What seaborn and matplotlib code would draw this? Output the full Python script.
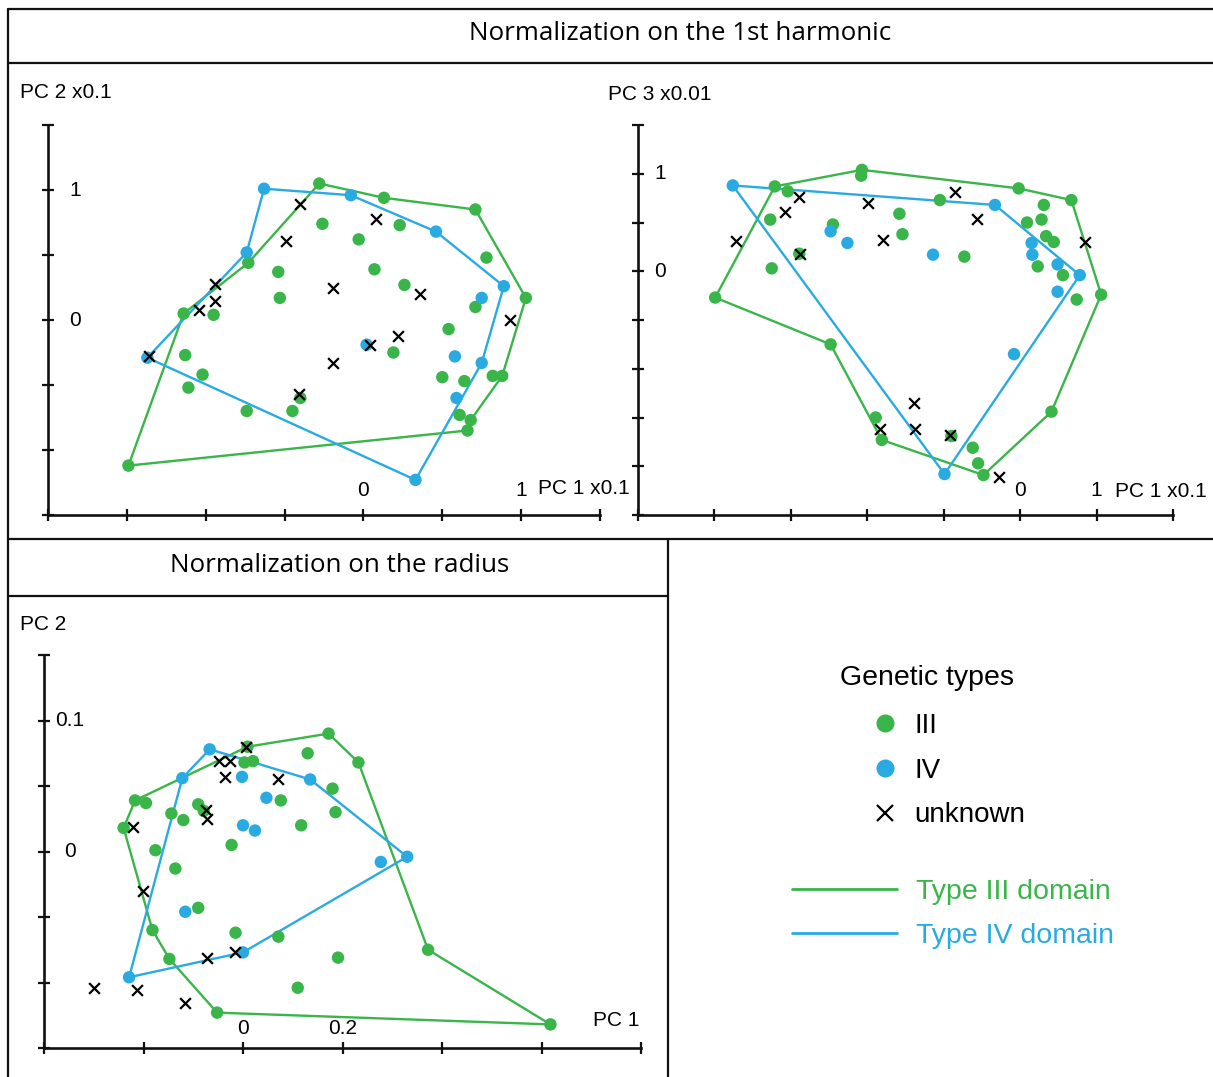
import matplotlib
matplotlib.use("Agg")
import matplotlib.pyplot as plt
from matplotlib.lines import Line2D
import numpy as np
import pandas as pd
import seaborn as sns

# --- data (hull vertices are listed first, in drawing order) ---
# Panel 1: normalization on the 1st harmonic, PC1 vs PC2
p1_III_x = [-1.49, -1.14, -0.73, -0.28, 0.13, 0.71, 1.03, 0.88, 0.68, 0.66,
            0.78, 0.71, 0.54, 0.82, 0.64, 0.50, 0.61, -0.95, -0.54, -0.53, -0.26,
            -0.03, 0.23, 0.07, 0.26, 0.19, -1.13, -1.02, -1.11, -0.74, -0.45, -0.40]
p1_III_y = [-1.12, 0.05, 0.44, 1.05, 0.94, 0.85, 0.17, -0.43, -0.77, -0.85,
            0.48, 0.10, -0.07, -0.43, -0.47, -0.44, -0.73, 0.04, 0.37, 0.17, 0.74,
            0.62, 0.73, 0.39, 0.27, -0.25, -0.27, -0.42, -0.52, -0.70, -0.70, -0.60]
p1_III_hull = 10
p1_IV_x = [-1.37, -0.74, -0.63, -0.08, 0.46, 0.89, 0.75, 0.33, 0.75, 0.58, 0.59, 0.02]
p1_IV_y = [-0.29, 0.52, 1.01, 0.96, 0.68, 0.26, -0.33, -1.23, 0.17, -0.28, -0.60, -0.19]
p1_IV_hull = 8
p1_unk_x = [-0.40, 0.08, -0.49, -0.94, -0.94, -1.04, -0.19, 0.36, 0.93, 0.22, 0.04, -0.19, -0.41, -1.36]
p1_unk_y = [0.89, 0.78, 0.61, 0.28, 0.15, 0.08, 0.25, 0.20, 0.00, -0.12, -0.19, -0.33, -0.57, -0.28]

# Panel 2: normalization on the 1st harmonic, PC1 vs PC3
p2_III_x = [-3.99, -3.21, -2.07, -0.02, 0.67, 1.06, 0.41, -0.48, -1.81, -2.48,
            -2.08, -3.04, -3.27, -3.25, -2.89, -2.45, -1.58, -1.54, -1.05, -0.73, 0.31,
            0.28, 0.09, 0.34, 0.44, 0.23, 0.56, 0.74, -1.89, -0.90, -0.62, -0.55]
p2_III_y = [-0.27, 0.87, 1.04, 0.85, 0.73, -0.24, -1.44, -2.09, -1.73, -0.75,
            0.98, 0.82, 0.53, 0.03, 0.18, 0.48, 0.59, 0.38, 0.73, 0.15, 0.68,
            0.53, 0.50, 0.36, 0.30, 0.05, -0.04, -0.29, -1.50, -1.69, -1.81, -1.97]
p2_III_hull = 10
p2_IV_x = [-3.76, -0.33, 0.78, -0.99, -2.48, -2.26, -1.14, 0.15, 0.16, 0.49, 0.49, -0.08]
p2_IV_y = [0.88, 0.68, -0.04, -2.08, 0.41, 0.29, 0.17, 0.29, 0.17, 0.07, -0.21, -0.85]
p2_IV_hull = 4
p2_unk_x = [-3.72, -3.08, -2.89, -2.88, -1.99, -1.80, -0.85, -0.56, 0.85, -1.39, -1.84, -1.37, -0.92, -0.28]
p2_unk_y = [0.31, 0.61, 0.76, 0.18, 0.70, 0.32, 0.81, 0.54, 0.30, -1.35, -1.62, -1.62, -1.68, -2.11]

# Panel 3: normalization on the radius, PC1 vs PC2
p3_III_x = [-0.240, -0.217, 0.009, 0.172, 0.232, 0.372, 0.618, -0.052, -0.148, -0.182,
            0.130, 0.003, 0.020, 0.180, 0.186, 0.076, 0.117, -0.023, -0.195, -0.144,
            -0.120, -0.090, -0.176, -0.136, -0.090, -0.015, 0.071, 0.191, 0.110, -0.079]
p3_III_y = [0.018, 0.039, 0.080, 0.090, 0.068, -0.075, -0.132, -0.123, -0.082, -0.060,
            0.075, 0.068, 0.069, 0.048, 0.030, 0.039, 0.020, 0.005, 0.037, 0.029,
            0.024, 0.036, 0.001, -0.013, -0.043, -0.062, -0.065, -0.081, -0.104, 0.031]
p3_III_hull = 10
p3_IV_x = [-0.229, -0.122, -0.067, 0.135, 0.330, 0.000, -0.002, 0.047, 0.000, 0.024, 0.277, -0.116]
p3_IV_y = [-0.096, 0.056, 0.078, 0.055, -0.004, -0.077, 0.057, 0.041, 0.020, 0.016, -0.008, -0.046]
p3_IV_hull = 6
p3_unk_x = [0.007, -0.049, -0.026, -0.036, 0.071, -0.075, -0.073, -0.221, -0.202, -0.073, -0.017, -0.299, -0.213, -0.116]
p3_unk_y = [0.080, 0.069, 0.069, 0.057, 0.055, 0.032, 0.025, 0.019, -0.030, -0.081, -0.077, -0.104, -0.106, -0.116]

GREEN = '#39b54a'
BLUE = '#29abe2'
W, H = 1213, 1077

sns.set_theme(style='white')
plt.rcParams['font.family'] = ['Liberation Sans', 'DejaVu Sans']
plt.rcParams['text.color'] = 'black'

fig = plt.figure(figsize=(W / 100, H / 100), dpi=100)


def fx(px):
    return px / W


def fy(py):
    return 1 - py / H


def make_df(ix, iy, vx, vy, ux, uy):
    return pd.concat([pd.DataFrame({'x': ix, 'y': iy, 'type': 'III'}),
                      pd.DataFrame({'x': vx, 'y': vy, 'type': 'IV'}),
                      pd.DataFrame({'x': ux, 'y': uy, 'type': 'unknown'})], ignore_index=True)


def draw_panel(ax, df, n3, n4, xlim, ylim, xstep, ystep, xlabs, ylabs, xoff, yoff):
    for typ, n, col in [('III', n3, GREEN), ('IV', n4, BLUE)]:
        sub = df[df.type == typ]
        hx = np.append(sub.x.values[:n], sub.x.values[0])
        hy = np.append(sub.y.values[:n], sub.y.values[0])
        ax.plot(hx, hy, color=col, lw=1.7, zorder=2)
    sns.scatterplot(data=df[df.type == 'III'], x='x', y='y', color=GREEN, s=80,
                    edgecolor='none', ax=ax, zorder=3)
    sns.scatterplot(data=df[df.type == 'IV'], x='x', y='y', color=BLUE, s=80,
                    edgecolor='none', ax=ax, zorder=3)
    sns.scatterplot(data=df[df.type == 'unknown'], x='x', y='y', color='black', marker='x',
                    s=60, linewidth=1.6, ax=ax, zorder=4)
    ax.set_xlim(*xlim)
    ax.set_ylim(*ylim)
    ax.set_xticks(np.arange(xlim[0], xlim[1] + 1e-9, xstep))
    ax.set_yticks(np.arange(ylim[0], ylim[1] + 1e-9, ystep))
    ax.set_xticklabels([])
    ax.set_yticklabels([])
    ax.set_xlabel('')
    ax.set_ylabel('')
    ax.patch.set_alpha(0)
    for side in ['top', 'right']:
        ax.spines[side].set_visible(False)
    for side in ['left', 'bottom']:
        ax.spines[side].set_linewidth(1.9)
        ax.spines[side].set_color('#111111')
    ax.tick_params(direction='inout', length=9, width=1.6, color='#111111',
                   bottom=True, left=True)
    for lab, val in xlabs:
        ax.annotate(lab, xy=(val, ylim[0]), xytext=(0, xoff), textcoords='offset pixels',
                    ha='center', va='center', fontsize=15)
    for lab, val in ylabs:
        ax.annotate(lab, xy=(xlim[0], val), xytext=(yoff, 0), textcoords='offset pixels',
                    ha='center', va='center', fontsize=15)


ax1 = fig.add_axes([fx(48), fy(515), 552 / W, 390 / H])
draw_panel(ax1, make_df(p1_III_x, p1_III_y, p1_IV_x, p1_IV_y, p1_unk_x, p1_unk_y),
           p1_III_hull, p1_IV_hull, (-2, 1.5), (-1.5, 1.5), 0.5, 0.5,
           [('0', 0), ('1', 1)], [('1', 1), ('0', 0)], 24, 27)

ax2 = fig.add_axes([fx(638), fy(515), 535 / W, 390 / H])
draw_panel(ax2, make_df(p2_III_x, p2_III_y, p2_IV_x, p2_IV_y, p2_unk_x, p2_unk_y),
           p2_III_hull, p2_IV_hull, (-5, 2), (-2.5, 1.5), 1, 0.5,
           [('0', 0), ('1', 1)], [('1', 1), ('0', 0)], 24, 22)

ax3 = fig.add_axes([fx(44), fy(1048), 597 / W, 393 / H])
draw_panel(ax3, make_df(p3_III_x, p3_III_y, p3_IV_x, p3_IV_y, p3_unk_x, p3_unk_y),
           p3_III_hull, p3_IV_hull, (-0.4, 0.8), (-0.15, 0.15), 0.2, 0.05,
           [('0', 0), ('0.2', 0.2)], [('0.1', 0.1), ('0', 0)], 20, 26)

# axis names
for txt, px, py in [('PC 2 x0.1', 20, 93), ('PC 1 x0.1', 538, 488), ('PC 3 x0.01', 608, 95),
                    ('PC 1 x0.1', 1115, 491), ('PC 2', 20, 624), ('PC 1', 593, 1020)]:
    fig.text(fx(px), fy(py), txt, ha='left', va='center', fontsize=15)

# panel frames
frame = dict(color='#111111', lw=1.6)
for xs, ys in [((8, W), (9, 9)), ((8, 8), (9, H)), ((8, W), (63, 63)), ((8, W), (539, 539)),
               ((668, 668), (539, H)), ((8, 668), (596, 596))]:
    fig.add_artist(Line2D([fx(xs[0]), fx(xs[1])], [fy(ys[0]), fy(ys[1])], **frame))

fig.text(fx(680), fy(34), 'Normalization on the 1st harmonic', ha='center', va='center',
         fontsize=18.7, family='Open Sans')
fig.text(fx(340), fy(566), 'Normalization on the radius', ha='center', va='center',
         fontsize=18.7, family='Open Sans')

# legend
fig.text(fx(927), fy(678), 'Genetic types', ha='center', va='center', fontsize=20.5)
type_handles = [Line2D([], [], ls='', marker='o', color=GREEN, markersize=13, markeredgewidth=0),
                Line2D([], [], ls='', marker='o', color=BLUE, markersize=13, markeredgewidth=0),
                Line2D([], [], ls='', marker='x', color='black', markersize=12, markeredgewidth=1.6)]
leg1 = fig.legend(type_handles, ['III', 'IV', 'unknown'], loc='upper left',
                  bbox_to_anchor=(fx(871), fy(713)), frameon=False, fontsize=20,
                  handlelength=1.0, handletextpad=0.55, borderpad=0, borderaxespad=0,
                  labelspacing=0.67)
dom_handles = [Line2D([], [], color=GREEN, lw=2), Line2D([], [], color=BLUE, lw=2)]
leg2 = fig.legend(dom_handles, ['Type III domain', 'Type IV domain'], loc='upper left',
                  bbox_to_anchor=(fx(792), fy(879)), frameon=False, fontsize=20.5,
                  handlelength=3.7, handletextpad=0.65, borderpad=0, borderaxespad=0,
                  labelspacing=0.62, labelcolor='linecolor')

fig.savefig('out.png', dpi=100)
